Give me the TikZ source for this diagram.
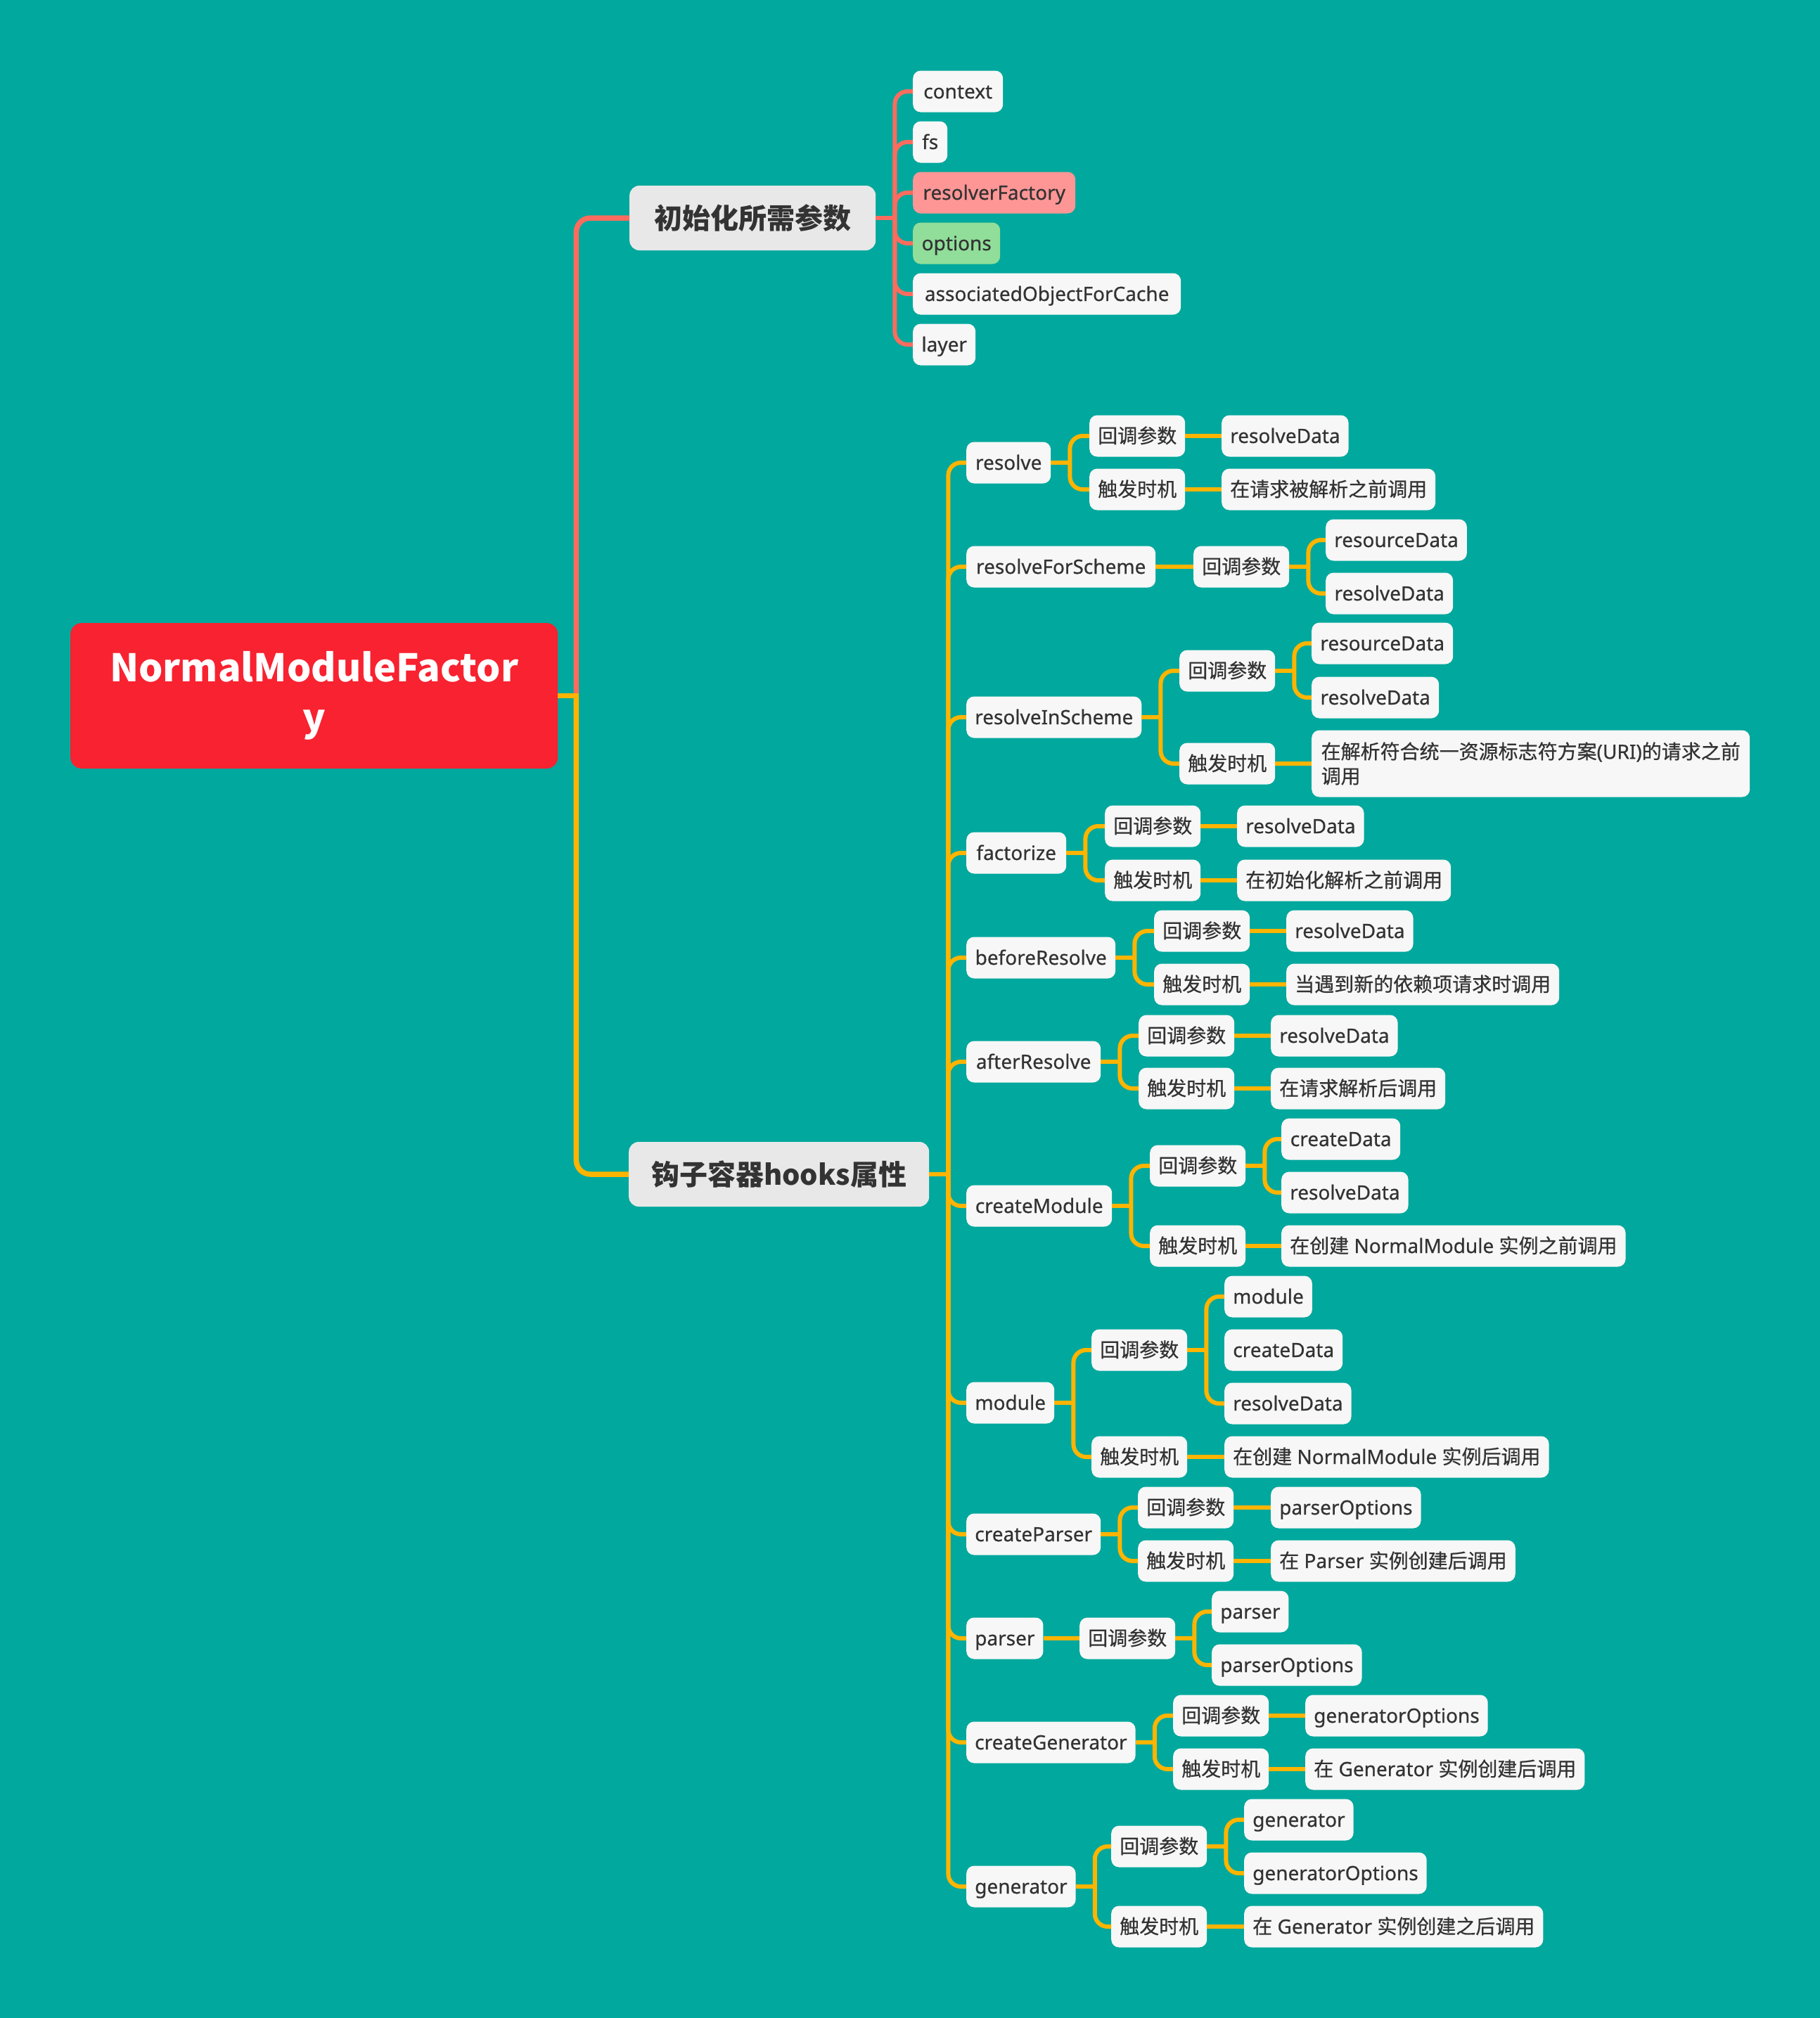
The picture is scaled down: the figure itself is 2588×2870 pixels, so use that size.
\documentclass[tikz,border=0pt]{standalone}
\usepackage{fontspec}
\setmainfont{Noto Sans}[FakeBold=0.6]
\newfontfamily\cjk{Noto Sans CJK SC}[FakeBold=0.6]
\newfontfamily\cjkb{Noto Sans CJK SC}
\newcommand\zh[1]{{\cjk #1}}
\usetikzlibrary{calc}
\definecolor{bgc}{RGB}{0,168,157}
\definecolor{leafc}{RGB}{247,247,247}
\definecolor{mainc}{RGB}{232,232,232}
\definecolor{txtc}{RGB}{51,51,51}
\definecolor{rootc}{RGB}{248,34,48}
\definecolor{rdc}{RGB}{252,108,94}
\definecolor{ylc}{RGB}{255,180,0}
\definecolor{pinkc}{RGB}{255,150,150}
\definecolor{greenc}{RGB}{144,222,153}
\tikzset{
  leaf/.style={fill=leafc, rounded corners=11pt, minimum height=59pt, inner xsep=12pt, inner ysep=0pt,
    anchor=west, text=txtc, font=\fontsize{28}{34}\selectfont, text height=24pt, text depth=4pt},
  mainnode/.style={fill=mainc, rounded corners=14pt, minimum height=92pt, inner xsep=16pt, inner ysep=0pt,
    anchor=west, text=txtc, font=\fontsize{40}{48}\selectfont\cjkb\bfseries, text height=34pt, text depth=4pt},
  rootnode/.style={fill=rootc, rounded corners=16pt, minimum height=207pt, minimum width=693pt,
    anchor=west, text=white, align=center, font=\fontsize{54}{71}\selectfont\cjkb\bfseries},
  wd/.style={minimum width=#1},
  yl/.style={draw=ylc, line width=6pt},
  rd/.style={draw=rdc, line width=6pt},
  ylmain/.style={draw=ylc, line width=7.5pt},
  rdmain/.style={draw=rdc, line width=7.5pt},
}
\newcommand\stub[2]{\draw[#1] (#2.east) -- ++(30,0);}
\newcommand\brch[3]{\draw[#1, rounded corners=18pt] ($(#2.east)+(27,0)$) |- (#3.west);}
\newcommand\strt[3]{\draw[#1] (#2.east) -- (#3.west);}
\begin{document}
\begin{tikzpicture}[x=1pt,y=-1pt]
\fill[bgc] (0,0) rectangle (2588,2870);
\useasboundingbox (0,0) rectangle (2588,2870);

% root and first level
\node[rootnode] (root) at (100,989.5) {NormalModuleFactor\\y};
\node[mainnode, wd=350] (init) at (895,310) {初始化所需参数};
\node[mainnode, wd=427] (hooks) at (894,1670) {钩子容器hooks属性};

\draw[rdmain, rounded corners=20pt] ($(root.east)+(26,0)$) |- (init.west);
\draw[ylmain, rounded corners=20pt] ($(root.east)+(26,0)$) |- (hooks.west);
\draw[ylmain] (root.east) -- ++(30,0);

% init params
\node[leaf, wd=128] (ctx) at (1298,130) {context};
\node[leaf, wd=49] (fs) at (1298,202) {fs};
\node[leaf, wd=231, fill=pinkc] (rf) at (1298,274) {resolverFactory};
\node[leaf, wd=124, fill=greenc] (opt) at (1298,346) {options};
\node[leaf, wd=381] (aoc) at (1298,418) {associatedObjectForCache};
\node[leaf, wd=89] (layer) at (1298,490) {layer};
\stub{rd}{init}
\foreach \c in {ctx,fs,rf,opt,aoc,layer}{\brch{rd}{init}{\c}}

% hooks level 2
\node[leaf, wd=120] (resolve) at (1374,658) {resolve};
\node[leaf, wd=269] (rfs) at (1374,806) {resolveForScheme};
\node[leaf, wd=249] (ris) at (1374,1020) {resolveInScheme};
\node[leaf, wd=142] (fac) at (1374,1213) {factorize};
\node[leaf, wd=212] (bres) at (1374,1362) {beforeResolve};
\node[leaf, wd=191] (ares) at (1374,1510) {afterResolve};
\node[leaf, wd=207] (cmod) at (1374,1715) {createModule};
\node[leaf, wd=125] (mod) at (1374,1995) {module};
\node[leaf, wd=191] (cpar) at (1374,2182) {createParser};
\node[leaf, wd=107] (par) at (1374,2330) {parser};
\node[leaf, wd=240] (cgen) at (1374,2478) {createGenerator};
\node[leaf, wd=154] (gen) at (1374,2683) {generator};
\stub{yl}{hooks}
\foreach \c in {resolve,rfs,ris,fac,bres,ares,cmod,mod,cpar,par,cgen,gen}{\brch{yl}{hooks}{\c}}

% resolve
\node[leaf, wd=134] (rcb) at (1549,620) {\zh{回调参数}};
\node[leaf, wd=180] (rcb1) at (1737,620) {resolveData};
\node[leaf, wd=134] (rtr) at (1549,696) {\zh{触发时机}};
\node[leaf, wd=302] (rtr1) at (1737,696) {\zh{在请求被解析之前调用}};
\stub{yl}{resolve}\brch{yl}{resolve}{rcb}\brch{yl}{resolve}{rtr}
\strt{yl}{rcb}{rcb1}\strt{yl}{rtr}{rtr1}

% resolveForScheme
\node[leaf, wd=134] (fscb) at (1697,806) {\zh{回调参数}};
\node[leaf, wd=200] (fscb1) at (1885,768) {resourceData};
\node[leaf, wd=181] (fscb2) at (1885,844) {resolveData};
\strt{yl}{rfs}{fscb}
\stub{yl}{fscb}\brch{yl}{fscb}{fscb1}\brch{yl}{fscb}{fscb2}

% resolveInScheme
\node[leaf, wd=133] (iscb) at (1677,954) {\zh{回调参数}};
\node[leaf, wd=201] (iscb1) at (1865,915) {resourceData};
\node[leaf, wd=181] (iscb2) at (1865,992) {resolveData};
\node[leaf, wd=133] (istr) at (1677,1086) {\zh{触发时机}};
\node[leaf, wd=623, minimum height=95pt, align=left, text height=, text depth=,
  font=\fontsize{28}{35}\selectfont] (istr1) at (1865,1086)
  {\zh{在解析符合统一资源标志符方案}(URI)\zh{的请求之前}\\\zh{调用}};
\stub{yl}{ris}\brch{yl}{ris}{iscb}\brch{yl}{ris}{istr}
\stub{yl}{iscb}\brch{yl}{iscb}{iscb1}\brch{yl}{iscb}{iscb2}
\strt{yl}{istr}{istr1}

% factorize
\node[leaf, wd=134] (facb) at (1571,1175) {\zh{回调参数}};
\node[leaf, wd=180] (facb1) at (1759,1175) {resolveData};
\node[leaf, wd=134] (fatr) at (1571,1252) {\zh{触发时机}};
\node[leaf, wd=301] (fatr1) at (1759,1252) {\zh{在初始化解析之前调用}};
\stub{yl}{fac}\brch{yl}{fac}{facb}\brch{yl}{fac}{fatr}
\strt{yl}{facb}{facb1}\strt{yl}{fatr}{fatr1}

% beforeResolve
\node[leaf, wd=133] (brcb) at (1641,1324) {\zh{回调参数}};
\node[leaf, wd=179] (brcb1) at (1829,1324) {resolveData};
\node[leaf, wd=133] (brtr) at (1641,1400) {\zh{触发时机}};
\node[leaf, wd=386] (brtr1) at (1829,1400) {\zh{当遇到新的依赖项请求时调用}};
\stub{yl}{bres}\brch{yl}{bres}{brcb}\brch{yl}{bres}{brtr}
\strt{yl}{brcb}{brcb1}\strt{yl}{brtr}{brtr1}

% afterResolve
\node[leaf, wd=133] (arcb) at (1619,1473) {\zh{回调参数}};
\node[leaf, wd=180] (arcb1) at (1807,1473) {resolveData};
\node[leaf, wd=133] (artr) at (1619,1548) {\zh{触发时机}};
\node[leaf, wd=245] (artr1) at (1807,1548) {\zh{在请求解析后调用}};
\stub{yl}{ares}\brch{yl}{ares}{arcb}\brch{yl}{ares}{artr}
\strt{yl}{arcb}{arcb1}\strt{yl}{artr}{artr1}

% createModule
\node[leaf, wd=134] (cmcb) at (1635,1658) {\zh{回调参数}};
\node[leaf, wd=169] (cmcb1) at (1822,1620) {createData};
\node[leaf, wd=180] (cmcb2) at (1822,1696) {resolveData};
\node[leaf, wd=134] (cmtr) at (1635,1772) {\zh{触发时机}};
\node[leaf, wd=488] (cmtr1) at (1822,1772) {\zh{在创建} NormalModule \zh{实例之前调用}};
\stub{yl}{cmod}\brch{yl}{cmod}{cmcb}\brch{yl}{cmod}{cmtr}
\stub{yl}{cmcb}\brch{yl}{cmcb}{cmcb1}\brch{yl}{cmcb}{cmcb2}
\strt{yl}{cmtr}{cmtr1}

% module
\node[leaf, wd=135] (mocb) at (1552,1920) {\zh{回调参数}};
\node[leaf, wd=124] (mocb1) at (1741,1844) {module};
\node[leaf, wd=168] (mocb2) at (1741,1920) {createData};
\node[leaf, wd=180] (mocb3) at (1741,1996) {resolveData};
\node[leaf, wd=135] (motr) at (1552,2072) {\zh{触发时机}};
\node[leaf, wd=460] (motr1) at (1741,2072) {\zh{在创建} NormalModule \zh{实例后调用}};
\stub{yl}{mod}\brch{yl}{mod}{mocb}\brch{yl}{mod}{motr}
\stub{yl}{mocb}\brch{yl}{mocb}{mocb1}\brch{yl}{mocb}{mocb3}
\strt{yl}{motr}{motr1}

% createParser
\node[leaf, wd=135] (cpcb) at (1618,2144) {\zh{回调参数}};
\node[leaf, wd=210] (cpcb1) at (1807,2144) {parserOptions};
\node[leaf, wd=135] (cptr) at (1618,2220) {\zh{触发时机}};
\node[leaf, wd=346] (cptr1) at (1807,2220) {\zh{在} Parser \zh{实例创建后调用}};
\stub{yl}{cpar}\brch{yl}{cpar}{cpcb}\brch{yl}{cpar}{cptr}
\strt{yl}{cpcb}{cpcb1}\strt{yl}{cptr}{cptr1}

% parser
\node[leaf, wd=134] (pacb) at (1535,2330) {\zh{回调参数}};
\node[leaf, wd=106] (pacb1) at (1723,2292) {parser};
\node[leaf, wd=210] (pacb2) at (1723,2368) {parserOptions};
\strt{yl}{par}{pacb}
\stub{yl}{pacb}\brch{yl}{pacb}{pacb1}\brch{yl}{pacb}{pacb2}

% createGenerator
\node[leaf, wd=135] (cgcb) at (1668,2440) {\zh{回调参数}};
\node[leaf, wd=257] (cgcb1) at (1856,2440) {generatorOptions};
\node[leaf, wd=135] (cgtr) at (1668,2516) {\zh{触发时机}};
\node[leaf, wd=397] (cgtr1) at (1856,2516) {\zh{在} Generator \zh{实例创建后调用}};
\stub{yl}{cgen}\brch{yl}{cgen}{cgcb}\brch{yl}{cgen}{cgtr}
\strt{yl}{cgcb}{cgcb1}\strt{yl}{cgtr}{cgtr1}

% generator
\node[leaf, wd=136] (gecb) at (1580,2626) {\zh{回调参数}};
\node[leaf, wd=152] (gecb1) at (1769,2588) {generator};
\node[leaf, wd=256] (gecb2) at (1769,2664) {generatorOptions};
\node[leaf, wd=136] (getr) at (1580,2740) {\zh{触发时机}};
\node[leaf, wd=425] (getr1) at (1769,2740) {\zh{在} Generator \zh{实例创建之后调用}};
\stub{yl}{gen}\brch{yl}{gen}{gecb}\brch{yl}{gen}{getr}
\stub{yl}{gecb}\brch{yl}{gecb}{gecb1}\brch{yl}{gecb}{gecb2}
\strt{yl}{getr}{getr1}
\end{tikzpicture}
\end{document}
